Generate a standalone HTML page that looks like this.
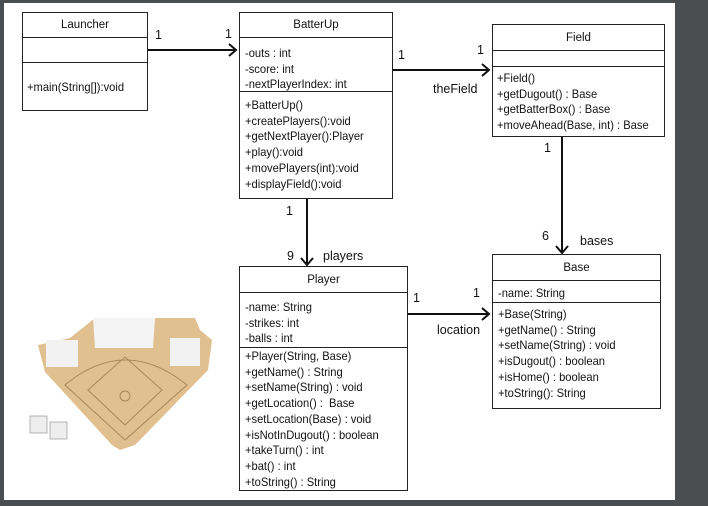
<!DOCTYPE html>
<html><head><meta charset="utf-8"><style>
html,body{margin:0;padding:0}
body{width:708px;height:506px;background:#4b4e51;position:relative;overflow:hidden;font-family:"Liberation Sans",sans-serif;color:#111}
#page{position:absolute;left:4px;top:3px;width:671px;height:497px;background:#fff}
.box{position:absolute;border:1px solid #222;background:#fff;box-sizing:border-box}
.sec{position:absolute;left:0;right:0;border-top:1.5px solid #222}
.t{position:absolute;font-size:12px;white-space:nowrap;transform:scaleX(.93);transform-origin:left center;line-height:15.7px}
.c{text-align:center;left:0;right:0;transform:none;font-size:11.5px}
.lab{position:absolute;font-size:12.5px;white-space:nowrap}
</style></head><body>
<div id="page"></div>

<!-- Launcher -->
<div class="box" style="left:22px;top:12px;width:126px;height:99px">
 <div class="t c" style="top:5px">Launcher</div>
 <div class="sec" style="top:24px"></div>
 <div class="sec" style="top:49px"></div>
 <div class="t" style="left:4px;top:67px">+main(String[]):void</div>
</div>

<!-- BatterUp -->
<div class="box" style="left:239px;top:12px;width:154px;height:187px">
 <div class="t c" style="top:5px">BatterUp</div>
 <div class="sec" style="top:24px"></div>
 <div class="t" style="left:5px;top:33px">-outs : int<br>-score: int<br>-nextPlayerIndex: int</div>
 <div class="sec" style="top:78px"></div>
 <div class="t" style="left:5px;top:85px">+BatterUp()<br>+createPlayers():void<br>+getNextPlayer():Player<br>+play():void<br>+movePlayers(int):void<br>+displayField():void</div>
</div>

<!-- Field -->
<div class="box" style="left:492px;top:24px;width:173px;height:113px">
 <div class="t c" style="top:6px">Field</div>
 <div class="sec" style="top:25px"></div>
 <div class="sec" style="top:41px"></div>
 <div class="t" style="left:4px;top:46px">+Field()<br>+getDugout() : Base<br>+getBatterBox() : Base<br>+moveAhead(Base, int) : Base</div>
</div>

<!-- Player -->
<div class="box" style="left:239px;top:266px;width:169px;height:225px">
 <div class="t c" style="top:6px">Player</div>
 <div class="sec" style="top:25px"></div>
 <div class="t" style="left:5px;top:33px">-name: String<br>-strikes: int<br>-balls : int</div>
 <div class="sec" style="top:80px"></div>
 <div class="t" style="left:5px;top:82px">+Player(String, Base)<br>+getName() : String<br>+setName(String) : void<br>+getLocation() :&nbsp; Base<br>+setLocation(Base) : void<br>+isNotInDugout() : boolean<br>+takeTurn() : int<br>+bat() : int<br>+toString() : String</div>
</div>

<!-- Base -->
<div class="box" style="left:492px;top:254px;width:169px;height:155px">
 <div class="t c" style="top:6px">Base</div>
 <div class="sec" style="top:25px"></div>
 <div class="t" style="left:5px;top:31px">-name: String</div>
 <div class="sec" style="top:47px"></div>
 <div class="t" style="left:5px;top:52px">+Base(String)<br>+getName() : String<br>+setName(String) : void<br>+isDugout() : boolean<br>+isHome() : boolean<br>+toString(): String</div>
</div>

<svg width="708" height="506" style="position:absolute;left:0;top:0" fill="none" stroke="#111" stroke-width="2">
 <line x1="148" y1="50" x2="236" y2="50"/><polyline points="229,44 236,50 229,56"/>
 <line x1="393" y1="70" x2="489" y2="70"/><polyline points="482,64 489,70 482,76"/>
 <line x1="307" y1="199" x2="307" y2="264"/><polyline points="301,258 307,265 313,258"/>
 <line x1="562" y1="137" x2="562" y2="252"/><polyline points="556,246 562,253 568,246"/>
 <line x1="408" y1="314" x2="489" y2="314"/><polyline points="482,308 489,314 482,320"/>
 <!-- baseball board -->
 <g stroke="none">
  <path d="M70 338 L95 318 L195 318 L200 330 L212 340 L208 370 L135 445 L120 450 L112 445 L45 372 L38 345 Z" fill="#e0c08e"/>
  <path d="M93 318 L155 318 L153 348 L95 348 Z" fill="#f4f4f4"/>
  <rect x="46" y="340" width="32" height="27" fill="#f2f2f2"/>
  <rect x="170" y="338" width="30" height="28" fill="#f2f2f2"/>
  <rect x="30" y="416" width="17" height="17" fill="#eee" stroke="#888" stroke-width=".6"/>
  <rect x="50" y="422" width="17" height="17" fill="#eee" stroke="#888" stroke-width=".6"/>
 </g>
 <g stroke="#a8875a" stroke-width="1" fill="none">
  <path d="M65 385 Q125 335 187 385 L125 440 Z"/>
  <path d="M88 390 L125 357 L162 390 L125 425 Z"/>
  <circle cx="125" cy="396" r="5"/>
 </g>
</svg>

<div class="lab" style="left:155px;top:28px">1</div>
<div class="lab" style="left:225px;top:27px">1</div>
<div class="lab" style="left:398px;top:48px">1</div>
<div class="lab" style="left:477px;top:43px">1</div>
<div class="lab" style="left:433px;top:82px">theField</div>
<div class="lab" style="left:544px;top:141px">1</div>
<div class="lab" style="left:542px;top:229px">6</div>
<div class="lab" style="left:580px;top:234px">bases</div>
<div class="lab" style="left:286px;top:204px">1</div>
<div class="lab" style="left:287px;top:249px">9</div>
<div class="lab" style="left:323px;top:249px">players</div>
<div class="lab" style="left:413px;top:291px">1</div>
<div class="lab" style="left:473px;top:286px">1</div>
<div class="lab" style="left:437px;top:323px">location</div>
</body></html>
